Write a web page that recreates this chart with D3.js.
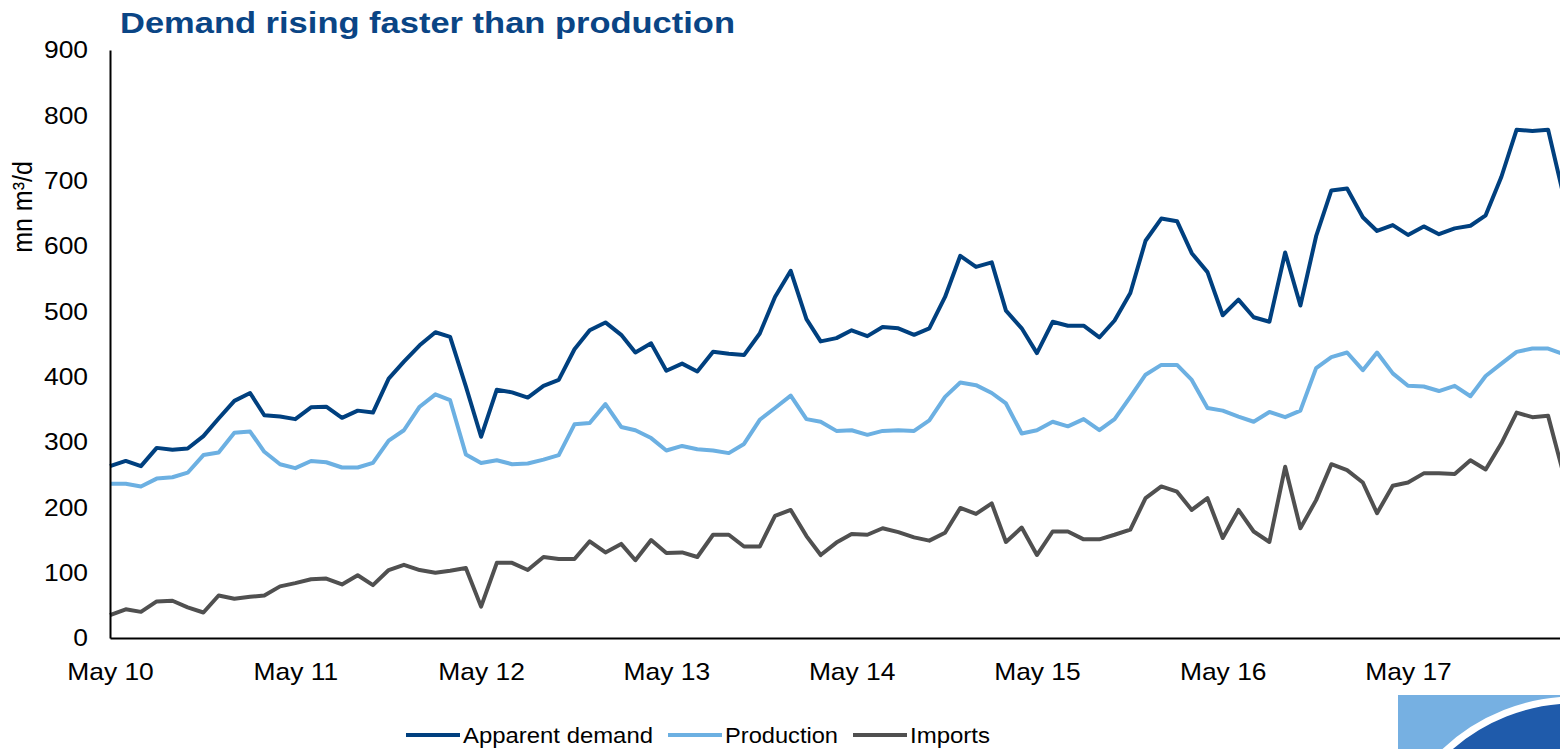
<!DOCTYPE html>
<html>
<head>
<meta charset="utf-8">
<script src="https://cdn.jsdelivr.net/npm/d3@7"></script>
<style>
  html, body { margin: 0; padding: 0; background: #fff; }
  svg { display: block; font-family: "Liberation Sans", Arial, sans-serif; }
</style>
</head>
<body>
<script>

// monthly, May 2010 .. Mar 2018 (mn m3/d)
var demand = [263,271,263,291,288,290,309,336,363,375, 341,339,335,353,354,337,348,345,397,423,
	448,468,461,385,308,380,376,368,386,395, 442,471,483,464,437,451,409,420,408,438,
	435,433,466,522,562,488,454,459,471,462, 476,474,464,474,522,585,568,575,501,474,
	436,484,478,478,460,486,528,608,642,638, 589,560,494,518,491,484,590,509,615,685,
	688,644,623,632,617,630,618,627,631,647, 706,778,776,778,685]

var production = [236,236,232,244,246,253,280,284,314,316, 285,266,260,271,269,261,261,268,302,318,
	354,373,364,281,268,272,266,267,273,280, 327,329,358,323,318,306,287,294,289,287,
	283,297,334,352,371,335,331,317,318,311, 317,318,317,333,369,391,387,375,359,313,
	318,331,324,335,318,335,369,403,418,418, 395,352,348,339,331,346,338,348,413,430,
	437,410,437,405,386,385,378,386,370,401, 420,438,443,443,435]

var imports = [35,44,40,56,57,47,39,65,60,63, 65,79,84,90,91,82,96,81,104,112,
	104,100,103,107,48,115,115,104,124,121, 121,148,131,144,119,150,130,131,124,158,
	158,140,140,187,196,156,127,146,159,158, 168,162,154,149,161,199,190,206,147,169,
	127,163,163,151,151,158,166,214,232,224, 196,214,153,196,163,147,262,168,211,266,
	257,238,191,233,238,252,252,251,272,258, 298,345,338,340,258]

var months = d3.timeMonth.range(new Date(2010, 4, 1), new Date(2018, 3, 1))
var xTicks = d3.range(2010, 2018).map(function(yr){ return new Date(yr, 4, 1) })
var yTicks = d3.range(0, 901, 100)

var seriesNames = ["Apparent demand", "Production", "Imports"]
var seriesColours = ["#00407f", "#6cb0e2", "#505050"]
var seriesData = [demand, production, imports]

var W = 1560, H = 749
var svg = d3.select("body").append("svg").attr("width", W).attr("height", H)

// x: May 10 at 110, May 17 at 1408 (runs past the right edge)
var x0 = d3.scaleTime().domain([xTicks[0], xTicks[7]]).range([110, 1408])
var xEnd = months[months.length - 1]
var x = x0.copy().domain([xTicks[0], xEnd]).range([110, x0(xEnd)])
var y = d3.scaleLinear().domain([0, 900]).range([638, 50])

// title
svg.append("text")
	.attr("x", 120).attr("y", 33)
	.attr("textLength", 615).attr("lengthAdjust", "spacingAndGlyphs")
	.style("font-size", "30px").style("font-weight", "bold")
	.style("fill", "#0a4585")
	.text("Demand rising faster than production")

// y label
svg.append("text")
	.attr("transform", "translate(32,207) scale(1.1,1) rotate(-90)")
	.attr("text-anchor", "middle")
	.style("font-size", "25px").style("fill", "#000")
	.text("mn m³/d")

// lines
var line = d3.line()
	.x(function(d, i){ return x(months[i]) })
	.y(function(d){ return y(d) })

svg.selectAll("path.series")
	.data(seriesData)
	.enter()
	.append("path")
	.attr("class", "series")
	.attr("d", line)
	.style("fill", "none")
	.style("stroke", function(d, i){ return seriesColours[i] })
	.style("stroke-width", 4)
	.style("stroke-linejoin", "round")

// axes
var yAxis = svg.append("g")
	.attr("transform", "translate(110,0)")
	.call(d3.axisLeft(y).tickValues(yTicks).tickSize(0).tickPadding(20).tickSizeOuter(0))
yAxis.select(".domain").style("stroke", "#000").style("stroke-width", 2)
yAxis.selectAll("text")
	.style("font-size", "24px").style("fill", "#000")
	.attr("transform", "scale(1.1,1)")

var xAxis = svg.append("g")
	.attr("transform", "translate(0,638)")
	.call(d3.axisBottom(x).tickValues(xTicks).tickFormat(d3.timeFormat("%b %y")).tickSize(0).tickPadding(25).tickSizeOuter(0))
xAxis.select(".domain").style("stroke", "#000").style("stroke-width", 2)
xAxis.selectAll("text")
	.style("font-size", "24px").style("fill", "#000")
	.attr("transform", "scale(1.1,1)")

// legend
var legendX = [406, 668, 853]
var legendW = [190, 113, 80]
var leg = svg.selectAll("g.leg")
	.data(seriesNames)
	.enter()
	.append("g")
	.attr("class", "leg")
	.attr("transform", function(d, i){ return "translate(" + legendX[i] + ",0)" })
leg.append("line")
	.attr("x1", 0).attr("x2", 54).attr("y1", 735).attr("y2", 735)
	.style("stroke", function(d, i){ return seriesColours[i] })
	.style("stroke-width", 4)
leg.append("text")
	.attr("x", 57).attr("y", 743)
	.attr("textLength", function(d, i){ return legendW[i] })
	.attr("lengthAdjust", "spacingAndGlyphs")
	.style("font-size", "22px").style("fill", "#000")
	.text(function(d){ return d })

// corner logo
var clip = svg.append("clipPath").attr("id", "logoClip")
clip.append("rect").attr("x", 1398).attr("y", 695).attr("width", 162).attr("height", 54)
var logo = svg.append("g").attr("clip-path", "url(#logoClip)")
logo.append("rect").attr("x", 1398).attr("y", 695).attr("width", 162).attr("height", 54).style("fill", "#76b0e2")
logo.append("circle").attr("cx", 1575).attr("cy", 890).attr("r", 190)
	.style("fill", "#1f5bab").style("stroke", "#fff").style("stroke-width", 7)

</script>
</body>
</html>
